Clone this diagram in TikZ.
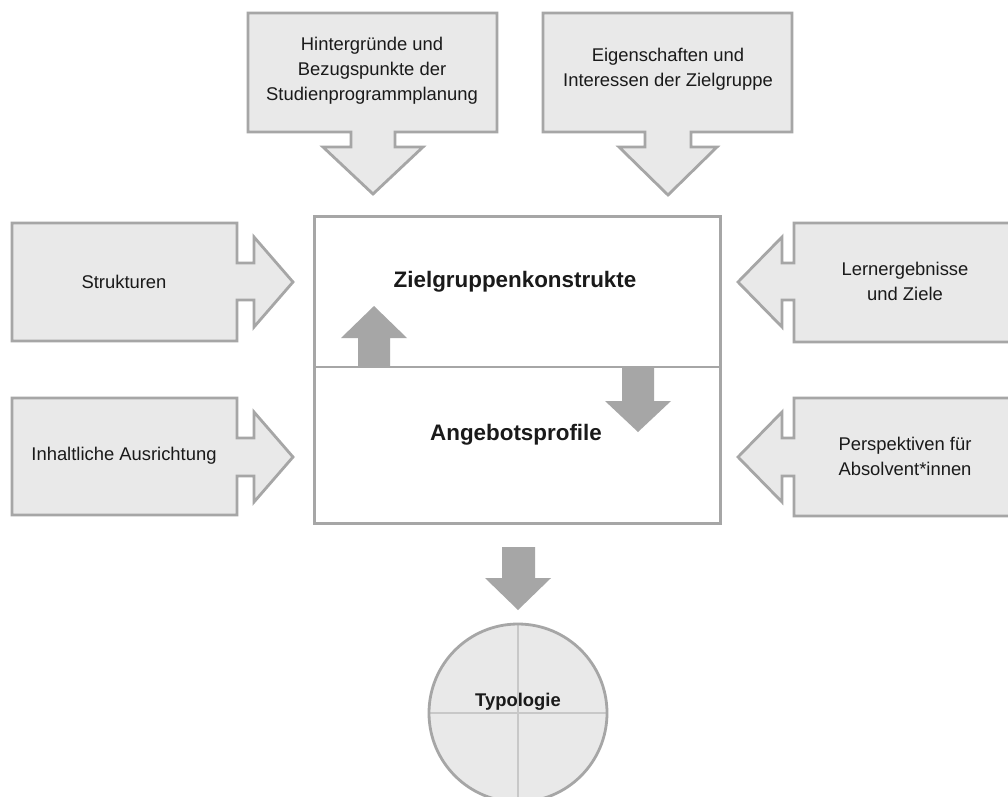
\documentclass[tikz,border=0pt]{standalone}
\usepackage{fontspec}
\setmainfont{Liberation Sans}
\definecolor{boxfill}{HTML}{E9E9E9}
\definecolor{edge}{HTML}{A6A6A6}
\definecolor{crossline}{HTML}{C8C8C8}
\definecolor{ink}{HTML}{1A1A1A}
\tikzset{
  callout/.style={fill=boxfill, draw=edge, line width=2.8pt, line join=miter},
  frame/.style={draw=edge, line width=2.8pt, fill=white},
  flow/.style={fill=edge, draw=none},
  lbl/.style={text=ink, align=center, font=\fontsize{18.4}{25}\selectfont, inner sep=0pt},
  head/.style={text=ink, align=center, font=\fontsize{22.4}{27}\selectfont\bfseries, inner sep=0pt},
}
\begin{document}
\begin{tikzpicture}[x=1pt, y=-1pt]
\useasboundingbox (0,0) rectangle (1008,796);
\clip (0,0) rectangle (1008,796);
\fill[white] (0,0) rectangle (1008,796);

% top callouts pointing down
\draw[callout] (248,13) -- (497,13) -- (497,132) -- (395,132) -- (395,147) -- (423,147)
  -- (373,194) -- (323,147) -- (351,147) -- (351,132) -- (248,132) -- cycle;
\draw[callout] (543,13) -- (792,13) -- (792,132) -- (691,132) -- (691,147) -- (717,147)
  -- (668,195) -- (619,147) -- (645,147) -- (645,132) -- (543,132) -- cycle;

% left callouts pointing right
\draw[callout] (12,223) -- (237,223) -- (237,263) -- (254,263) -- (254,237) -- (293,282)
  -- (254,327) -- (254,300) -- (237,300) -- (237,341) -- (12,341) -- cycle;
\draw[callout] (12,398) -- (237,398) -- (237,438) -- (254,438) -- (254,412) -- (293,457)
  -- (254,502) -- (254,476) -- (237,476) -- (237,515) -- (12,515) -- cycle;

% right callouts pointing left
\draw[callout] (1020,223) -- (794,223) -- (794,263) -- (782,263) -- (782,237) -- (738,282)
  -- (782,327) -- (782,300) -- (794,300) -- (794,342) -- (1020,342) -- cycle;
\draw[callout] (1020,398) -- (794,398) -- (794,438) -- (782,438) -- (782,412) -- (738,457)
  -- (782,502) -- (782,476) -- (794,476) -- (794,516) -- (1020,516) -- cycle;

% central two-part box
\node[frame, minimum width=406pt, minimum height=307pt, inner sep=0pt, anchor=north west]
  (core) at (313,215) {};
\coordinate (divL) at (313,367);
\coordinate (divR) at (719,367);
\draw[edge, line width=2.8pt] (divL) -- (divR);

% exchange arrows inside the central box
\fill[flow] (358,367) -- (358,338) -- (341,338) -- (374,306) -- (407,338) -- (390,338) -- (390,367) -- cycle;
\fill[flow] (622,367) -- (622,401) -- (605,401) -- (638,432) -- (671,401) -- (654,401) -- (654,367) -- cycle;

% arrow down to the typology
\fill[flow] (502,547) -- (535,547) -- (535,578) -- (551,578) -- (518,610) -- (485,578) -- (502,578) -- cycle;

% typology circle with quadrants
\node[circle, fill=boxfill, minimum size=178pt, inner sep=0pt] (typ) at (518,713) {};
\draw[crossline, line width=2.8pt] (typ.north) -- (typ.south);
\draw[crossline, line width=2.8pt] (typ.west) -- (typ.east);
\draw[edge, line width=2.8pt] (typ.center) circle[radius=89pt];

% labels
\node[lbl] (hint) at (372,71) {Hintergründe und\\Bezugspunkte der\\Studienprogrammplanung};
\node[lbl] (eigen) at (668,69) {Eigenschaften und\\Interessen der Zielgruppe};
\node[lbl] (struk) at (124,282) {Strukturen};
\node[lbl] (inhalt) at (124,456) {Inhaltliche Ausrichtung};
\node[lbl] (lern) at (905,281) {Lernergebnisse\\und Ziele};
\node[lbl] (persp) at (905,456) {Perspektiven für\\Absolvent*innen};
\node[head] (ziel) at (515,282) {Zielgruppenkonstrukte};
\node[head] (angebot) at (516,435) {Angebotsprofile};
\node[head, font=\fontsize{18.4}{22}\selectfont\bfseries] (typlabel) at (518,702) {Typologie};
\end{tikzpicture}
\end{document}
